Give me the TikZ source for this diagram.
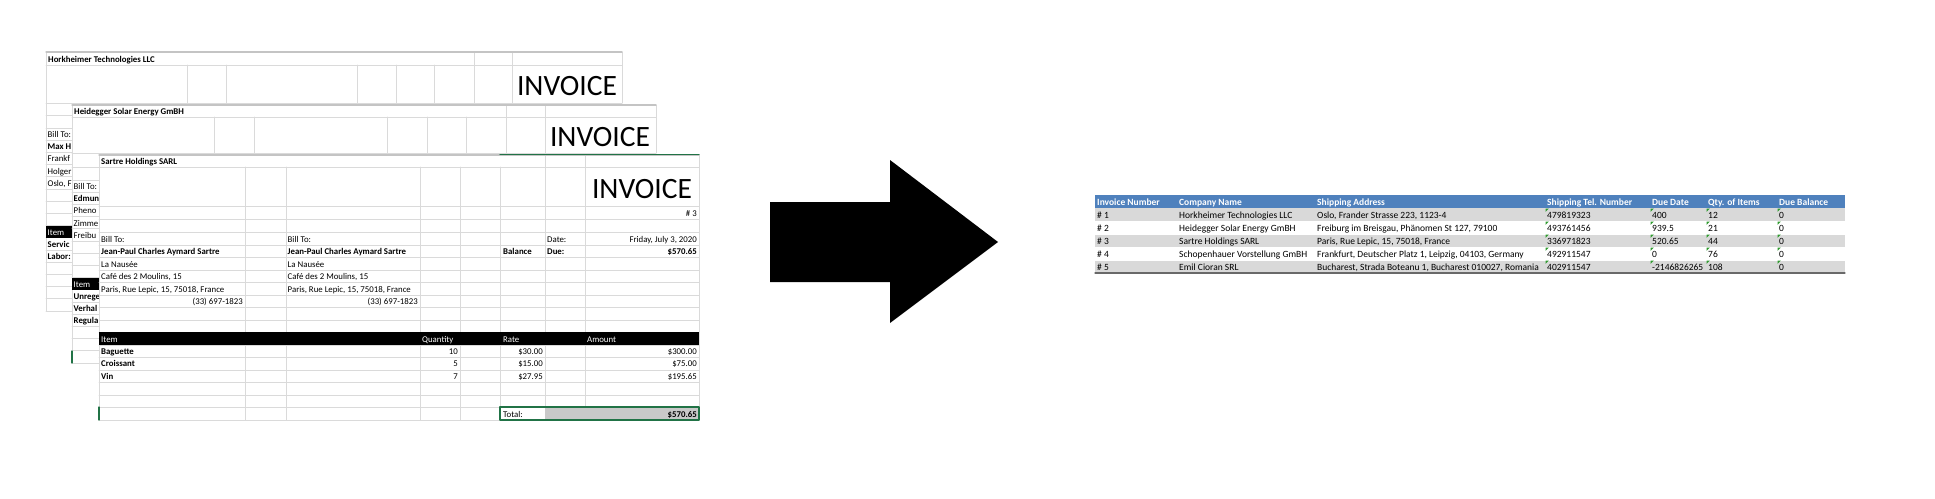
\PassOptionsToPackage{svgnames}{xcolor}
\documentclass[tikz,border=0pt]{standalone}
\usepackage{xcolor}
\usepackage{fontspec}
\setmainfont{Carlito}
\usepackage{tikz}
\usetikzlibrary{calc}

\definecolor{GridGray}{HTML}{DADADA}
\definecolor{EdgeGray}{HTML}{C4C4C4}
\definecolor{HeadBlue}{HTML}{4F81BD}
\definecolor{RowGray}{HTML}{D9D9D9}
\definecolor{TotalGray}{HTML}{C9C9C9}
\definecolor{SelGreen}{HTML}{217346}
\definecolor{TagGreen}{HTML}{2E9B2E}
\newcommand{\cellfont}{\fontsize{8.8}{10}\selectfont}
\newcommand{\tabfont}{\fontsize{9.5}{11}\selectfont}
\tikzset{
  gridline/.style={line width=.8pt,color=GridGray},
  sheetedge/.style={line width=1.2pt,color=EdgeGray},
  lcell/.style={inner sep=0pt,anchor=base west,font=\cellfont},
  rcell/.style={inner sep=0pt,anchor=base east,font=\cellfont},
  lbold/.style={lcell,font=\cellfont\bfseries},
  rbold/.style={rcell,font=\cellfont\bfseries},
  headcell/.style={lcell,color=white},
  invoice/.style={inner sep=0pt,anchor=base,font=\fontsize{29.5}{30}\selectfont},
  tcell/.style={inner sep=0pt,anchor=base west,font=\tabfont},
  thead/.style={tcell,font=\tabfont\bfseries,color=white},
}

\begin{document}
\begin{tikzpicture}[line cap=round,line join=round,x=1pt,y=-1pt]
\useasboundingbox[fill=white] (0,0) rectangle (1935,498);

%% sheet 1: Horkheimer
\foreach \y in {65,103} \draw[gridline] (46,\y) -- (622,\y);
\foreach \x in {187,226,357,396,434} \draw[gridline] (\x,65) -- (\x,103);
\foreach \x in {474,512,622} \draw[gridline] (\x,52) -- (\x,103);
\foreach \k in {0,...,16} \draw[gridline] (46,{115.7+12.2*\k}) -- (72,{115.7+12.2*\k});
\draw[gridline] (46,52) -- (46,311);
\draw[sheetedge] (46,52) -- (622,52);
\fill[black] (46,225.5) rectangle (72,237.7);
\draw (48,62.5) node[lbold] (hktitle) {Horkheimer Technologies LLC};
\draw (567,95) node[invoice] (hkinv) {INVOICE};
\draw (47.5,137.5) node[lcell] (hkbill) {Bill To:};
\draw (47.5,149.7) node[lbold] (hkname) {Max H};
\draw (47.5,161.9) node[lcell] (hkaddr) {Frankf};
\draw (47.5,174.1) node[lcell] (hkstreet) {Holger};
\draw (47.5,186.3) node[lcell] (hkcity) {Oslo, F};
\draw (47.5,235.1) node[headcell] (hkitem) {Item};
\draw (47.5,247.3) node[lbold] (hkserv) {Servic};
\draw (47.5,259.5) node[lbold] (hklabor) {Labor:};

%% sheet 2: Heidegger
\fill[white] (72,105) rectangle (656,363);
\foreach \y in {117,153} \draw[gridline] (72,\y) -- (656,\y);
\foreach \x in {214,254,387,427,466} \draw[gridline] (\x,117) -- (\x,153);
\foreach \x in {506,545,656} \draw[gridline] (\x,105) -- (\x,153);
\foreach \k in {0,...,16} \draw[gridline] (72,{167.7+12.2*\k}) -- (99,{167.7+12.2*\k});
\draw[gridline] (72,105) -- (72,363);
\draw[sheetedge] (72,105) -- (656,105);
\fill[black] (72,277.5) rectangle (99,289.7);
\draw[SelGreen,line width=1.2pt] (72,351) -- (72,363);
\draw (74,114) node[lbold] (hdtitle) {Heidegger Solar Energy GmBH};
\draw (600,146.7) node[invoice] (hdinv) {INVOICE};
\draw (73.5,189.5) node[lcell] (hdbill) {Bill To:};
\draw (73.5,201.7) node[lbold] (hdname) {Edmun};
\draw (73.5,213.9) node[lcell] (hdaddr) {Pheno};
\draw (73.5,226.1) node[lcell] (hdstreet) {Zimme};
\draw (73.5,238.3) node[lcell] (hdcity) {Freibu};
\draw (73.5,287.1) node[headcell] (hditem) {Item};
\draw (73.5,299.3) node[lbold] (hdunr) {Unrege};
\draw (73.5,311.5) node[lbold] (hdver) {Verhal};
\draw (73.5,323.7) node[lbold] (hdreg) {Regula};

%% sheet 3: Sartre
\fill[white] (99,155) rectangle (699,420);
\foreach \y in {167,206,219,232,245,257,270,282,295,307,320,332,345,357,370,382,395,407,420}
  \draw[gridline] (99,\y) -- (699,\y);
\foreach \x in {245,286,420,460,500} \draw[gridline] (\x,167) -- (\x,420);
\foreach \x in {545,585,699} \draw[gridline] (\x,155) -- (\x,420);
\draw[gridline] (99,155) -- (99,420);
\draw[sheetedge] (99,155) -- (699,155);
\draw[SelGreen,line width=1.2pt] (500,154.5) -- (699,154.5);
\fill[black] (99,332) rectangle (699,345);
\fill[TotalGray] (545,407) rectangle (699,420);
\draw[SelGreen,line width=1.2pt] (500,407) rectangle (699,420);
\draw[SelGreen,line width=1.2pt] (99,407) -- (99,420);

\draw (101,164.5) node[lbold] (srtitle) {Sartre Holdings SARL};
\draw (642,198.3) node[invoice] (srinv) {INVOICE};
\draw (697,216.3) node[rcell] (srnum) {\# 3};
\draw (101,242.3) node[lcell] (srbill) {Bill To:};
\draw (287.5,242.3) node[lcell] (srship) {Bill To:};
\draw (547,242.3) node[lcell] (srdate) {Date:};
\draw (697,242.3) node[rcell] (srday) {Friday, July 3, 2020};
\draw (101,254.3) node[lbold] (srname) {Jean-Paul Charles Aymard Sartre};
\draw (287.5,254.3) node[lbold] (srname2) {Jean-Paul Charles Aymard Sartre};
\draw (503,254.3) node[lbold] (srbal) {Balance};
\draw (547,254.3) node[lbold] (srdue) {Due:};
\draw (697,254.3) node[rbold] (srdueval) {\$570.65};
\draw (101,267.3) node[lcell] (srbook) {La Nausée};
\draw (287.5,267.3) node[lcell] (srbook2) {La Nausée};
\draw (101,279.3) node[lcell] (srcafe) {Café des 2 Moulins, 15};
\draw (287.5,279.3) node[lcell] (srcafe2) {Café des 2 Moulins, 15};
\draw (101,292.3) node[lcell] (srcity) {Paris, Rue Lepic, 15, 75018, France};
\draw (287.5,292.3) node[lcell] (srcity2) {Paris, Rue Lepic, 15, 75018, France};
\draw (243,304.3) node[rcell] (srtel) {(33) 697-1823};
\draw (418,304.3) node[rcell] (srtel2) {(33) 697-1823};
% item header
\draw (101,342.3) node[headcell] (sritem) {Item};
\draw (422,342.3) node[headcell] (srqty) {Quantity};
\draw (503,342.3) node[headcell] (srrate) {Rate};
\draw (587,342.3) node[headcell] (sramt) {Amount};
% items
\foreach \it/\q/\r/\a [count=\i from 0] in {Baguette/10/30.00/300.00,Croissant/5/15.00/75.00,Vin/7/27.95/195.65}{
  \draw (101,{354.3+12.5*\i}) node[lbold] (it\i) {\it};
  \draw (458,{354.3+12.5*\i}) node[rcell] (qt\i) {\q};
  \draw (543,{354.3+12.5*\i}) node[rcell] (rt\i) {\$\r};
  \draw (697,{354.3+12.5*\i}) node[rcell] (am\i) {\$\a};
}
\draw (503,417.3) node[lcell] (srtot) {Total:};
\draw (697,417.3) node[rbold] (srtotval) {\$570.65};

%% arrow
\fill[black] (770,202) -- (890,202) -- (890,160) -- (998,242) -- (890,323) -- (890,282) -- (770,282) -- cycle;

%% summary table
\fill[HeadBlue] (1095,195) rectangle (1845,208);
\foreach \r in {0,2,4} \fill[RowGray] (1095,{208+13*\r}) rectangle (1845,{221+13*\r});
\foreach \r in {1,...,4} \draw[white,line width=.6pt] (1095,{208+13*\r}) -- (1845,{208+13*\r});
\draw[line width=1.2pt,color=DimGray] (1095,273) -- (1845,273);
\draw (1097,205.3) node[thead] (hnum) {Invoice Number};
\draw (1179,205.3) node[thead] (hcomp) {Company Name};
\draw (1317,205.3) node[thead] (haddr) {Shipping Address};
\draw (1547,205.3) node[thead] (htel) {Shipping Tel. Number};
\draw (1652,205.3) node[thead] (hdate) {Due Date};
\draw (1708,205.3) node[thead] (hqty) {Qty. of Items};
\draw (1779,205.3) node[thead] (hbal) {Due Balance};
\foreach \n/\co/\ad/\te/\du/\qt [count=\r from 0] in {
  {1/Horkheimer Technologies LLC/Oslo, Frander Strasse 223, 1123-4/479819323/400/12},
  {2/Heidegger Solar Energy GmBH/Freiburg im Breisgau, Phänomen St 127, 79100/493761456/939.5/21},
  {3/Sartre Holdings SARL/Paris, Rue Lepic, 15, 75018, France/336971823/520.65/44},
  {4/Schopenhauer Vorstellung GmBH/Frankfurt, Deutscher Platz 1, Leipzig, 04103, Germany/492911547/0/76},
  {5/Emil Cioran SRL/Bucharest, Strada Boteanu 1, Bucharest 010027, Romania/402911547/-2146826265/108}}{
  \draw (1097,{218+13*\r}) node[tcell] (num\r) {\# \n};
  \draw (1179,{218+13*\r}) node[tcell] (comp\r) {\co};
  \draw (1317,{218+13*\r}) node[tcell] (addr\r) {\ad};
  \draw (1547,{218+13*\r}) node[tcell] (tel\r) {\te};
  \draw (1652,{218+13*\r}) node[tcell] (date\r) {\du};
  \draw (1708,{218+13*\r}) node[tcell] (qty\r) {\qt};
  \draw (1779,{218+13*\r}) node[tcell] (bal\r) {0};
  \foreach \x in {1545,1650,1706,1777}
    \fill[TagGreen] ({\x+0.6},{208.6+13*\r}) -- ++(3.2,0) -- ++(-3.2,3.2) -- cycle;
}
\end{tikzpicture}
\end{document}
